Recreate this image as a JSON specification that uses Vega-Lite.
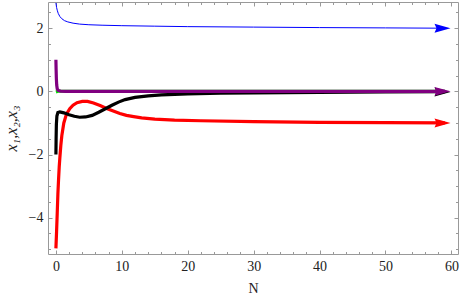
{
  "$schema": "https://vega.github.io/schema/vega-lite/v6.json",
  "width": 410,
  "height": 252,
  "padding": {"left": 48, "top": 2, "right": 2, "bottom": 48},
  "autosize": "none",
  "background": "white",
  "config": {
    "view": {"stroke": null},
    "axis": {"labelFont": "Liberation Serif", "titleFont": "Liberation Serif", "labelFontSize": 14, "titleFontSize": 14, "titleFontWeight": "normal", "labelColor": "#222", "titleColor": "#222", "domainColor": "#999", "tickColor": "#999", "grid": false}
  },
  "datasets": {
    "lines": [
      {"s": "red", "x": 0, "y": -4.97}, {"s": "red", "x": 0.1, "y": -4.45}, {"s": "red", "x": 0.2, "y": -3.86}, {"s": "red", "x": 0.3, "y": -3.25}, {"s": "red", "x": 0.4, "y": -2.8}, {"s": "red", "x": 0.5, "y": -2.4}, {"s": "red", "x": 0.6, "y": -2.1}, {"s": "red", "x": 0.75, "y": -1.7}, {"s": "red", "x": 0.9, "y": -1.4}, {"s": "red", "x": 1.2, "y": -1.0}, {"s": "red", "x": 1.6, "y": -0.72}, {"s": "red", "x": 2.1, "y": -0.55}, {"s": "red", "x": 2.6, "y": -0.44}, {"s": "red", "x": 3.2, "y": -0.36}, {"s": "red", "x": 4.0, "y": -0.32}, {"s": "red", "x": 4.8, "y": -0.32}, {"s": "red", "x": 5.7, "y": -0.37}, {"s": "red", "x": 6.7, "y": -0.45}, {"s": "red", "x": 7.7, "y": -0.54}, {"s": "red", "x": 8.7, "y": -0.62}, {"s": "red", "x": 9.7, "y": -0.7}, {"s": "red", "x": 10.7, "y": -0.76}, {"s": "red", "x": 11.8, "y": -0.8}, {"s": "red", "x": 13, "y": -0.84}, {"s": "red", "x": 15, "y": -0.88}, {"s": "red", "x": 18, "y": -0.91}, {"s": "red", "x": 22, "y": -0.93}, {"s": "red", "x": 30, "y": -0.96}, {"s": "red", "x": 40, "y": -0.98}, {"s": "red", "x": 50, "y": -0.99}, {"s": "red", "x": 59, "y": -1.0},
      {"s": "black", "x": 0, "y": -2.0}, {"s": "black", "x": 0.03, "y": -1.5}, {"s": "black", "x": 0.07, "y": -1.05}, {"s": "black", "x": 0.15, "y": -0.78}, {"s": "black", "x": 0.3, "y": -0.67}, {"s": "black", "x": 0.6, "y": -0.65}, {"s": "black", "x": 1.2, "y": -0.68}, {"s": "black", "x": 2.0, "y": -0.74}, {"s": "black", "x": 2.8, "y": -0.79}, {"s": "black", "x": 3.6, "y": -0.82}, {"s": "black", "x": 4.5, "y": -0.81}, {"s": "black", "x": 5.5, "y": -0.76}, {"s": "black", "x": 6.5, "y": -0.66}, {"s": "black", "x": 7.5, "y": -0.55}, {"s": "black", "x": 8.5, "y": -0.44}, {"s": "black", "x": 9.5, "y": -0.34}, {"s": "black", "x": 10.5, "y": -0.26}, {"s": "black", "x": 12, "y": -0.19}, {"s": "black", "x": 14, "y": -0.14}, {"s": "black", "x": 16, "y": -0.11}, {"s": "black", "x": 20, "y": -0.08}, {"s": "black", "x": 25, "y": -0.06}, {"s": "black", "x": 30, "y": -0.045}, {"s": "black", "x": 40, "y": -0.03}, {"s": "black", "x": 50, "y": -0.02}, {"s": "black", "x": 59, "y": -0.01},
      {"s": "green", "x": 0, "y": -0.02}, {"s": "green", "x": 0.3, "y": 0.0}, {"s": "green", "x": 59, "y": 0.0},
      {"s": "purple", "x": 0, "y": 1.0}, {"s": "purple", "x": 0.03, "y": 0.7}, {"s": "purple", "x": 0.07, "y": 0.4}, {"s": "purple", "x": 0.12, "y": 0.2}, {"s": "purple", "x": 0.2, "y": 0.08}, {"s": "purple", "x": 0.35, "y": 0.03}, {"s": "purple", "x": 0.7, "y": 0.008}, {"s": "purple", "x": 1.5, "y": 0.0}, {"s": "purple", "x": 59, "y": 0.0},
      {"s": "blue", "x": 0, "y": 2.8}, {"s": "blue", "x": 0.1, "y": 2.66}, {"s": "blue", "x": 0.2, "y": 2.57}, {"s": "blue", "x": 0.35, "y": 2.47}, {"s": "blue", "x": 0.6, "y": 2.37}, {"s": "blue", "x": 0.9, "y": 2.3}, {"s": "blue", "x": 1.3, "y": 2.24}, {"s": "blue", "x": 1.8, "y": 2.2}, {"s": "blue", "x": 2.6, "y": 2.16}, {"s": "blue", "x": 3.6, "y": 2.13}, {"s": "blue", "x": 5, "y": 2.11}, {"s": "blue", "x": 7, "y": 2.095}, {"s": "blue", "x": 10, "y": 2.08}, {"s": "blue", "x": 15, "y": 2.065}, {"s": "blue", "x": 20, "y": 2.05}, {"s": "blue", "x": 30, "y": 2.035}, {"s": "blue", "x": 40, "y": 2.02}, {"s": "blue", "x": 50, "y": 2.01}, {"s": "blue", "x": 59, "y": 2.0}
    ],
    "arrows": [
      {"s": "red", "x": 58.65, "y": -1.0},
      {"s": "black", "x": 58.65, "y": -0.02},
      {"s": "purple", "x": 58.65, "y": 0.0},
      {"s": "blue", "x": 58.65, "y": 2.0}
    ]
  },
  "resolve": {"axis": {"x": "independent", "y": "independent"}},
  "layer": [
    {
      "data": {"name": "lines"},
      "mark": {"type": "line", "opacity": 0},
      "encoding": {
        "x": {"field": "x", "type": "quantitative", "scale": {"domain": [-1.2, 61.0], "nice": false, "zero": false},
          "axis": {"orient": "bottom", "values": [0, 10, 20, 30, 40, 50, 60], "tickSize": -4, "labelPadding": 9, "title": "N", "titlePadding": 8, "domain": true}},
        "y": {"field": "y", "type": "quantitative", "scale": {"domain": [-5.15, 2.83], "nice": false, "zero": false},
          "axis": {"orient": "left", "values": [-4, -2, 0, 2], "tickSize": -4, "labelPadding": 9, "title": "x₁,x₂,x₃", "titleFontStyle": "italic", "titleFontSize": 16, "titlePadding": 9, "domain": true}}
      }
    },
    {
      "data": {"name": "lines"},
      "mark": {"type": "line", "opacity": 0},
      "encoding": {
        "x": {"field": "x", "type": "quantitative", "axis": {"orient": "top", "values": [0, 10, 20, 30, 40, 50, 60], "tickSize": -4, "labels": false, "title": null, "domain": true}},
        "y": {"field": "y", "type": "quantitative", "axis": {"orient": "right", "values": [-4, -2, 0, 2], "tickSize": -4, "labels": false, "title": null, "domain": true}}
      }
    },
    {
      "data": {"name": "lines"},
      "mark": {"type": "line", "opacity": 0},
      "encoding": {
        "x": {"field": "x", "type": "quantitative", "axis": {"orient": "bottom", "values": [2, 4, 6, 8, 12, 14, 16, 18, 22, 24, 26, 28, 32, 34, 36, 38, 42, 44, 46, 48, 52, 54, 56, 58], "tickSize": -2.5, "labels": false, "title": null, "domain": false}},
        "y": {"field": "y", "type": "quantitative", "axis": {"orient": "left", "values": [-5, -4.5, -3.5, -3, -2.5, -1.5, -1, -0.5, 0.5, 1, 1.5, 2.5], "tickSize": -2.5, "labels": false, "title": null, "domain": false}}
      }
    },
    {
      "data": {"name": "lines"},
      "mark": {"type": "line", "opacity": 0},
      "encoding": {
        "x": {"field": "x", "type": "quantitative", "axis": {"orient": "top", "values": [2, 4, 6, 8, 12, 14, 16, 18, 22, 24, 26, 28, 32, 34, 36, 38, 42, 44, 46, 48, 52, 54, 56, 58], "tickSize": -2.5, "labels": false, "title": null, "domain": false}},
        "y": {"field": "y", "type": "quantitative", "axis": {"orient": "right", "values": [-5, -4.5, -3.5, -3, -2.5, -1.5, -1, -0.5, 0.5, 1, 1.5, 2.5], "tickSize": -2.5, "labels": false, "title": null, "domain": false}}
      }
    },
    {
      "data": {"name": "lines"},
      "transform": [{"filter": "datum.s === 'red'"}],
      "mark": {"type": "line", "color": "#ff0000", "strokeWidth": 3.2, "clip": true},
      "encoding": {"x": {"field": "x", "type": "quantitative", "axis": null}, "y": {"field": "y", "type": "quantitative", "axis": null}}
    },
    {
      "data": {"name": "arrows"},
      "transform": [{"filter": "datum.s === 'red'"}],
      "mark": {"type": "point", "filled": true, "opacity": 1, "color": "#ff0000", "size": 256, "shape": "M-1,-0.56L1,0L-1,0.56L-0.75,0Z"},
      "encoding": {"x": {"field": "x", "type": "quantitative", "axis": null}, "y": {"field": "y", "type": "quantitative", "axis": null}}
    },
    {
      "data": {"name": "lines"},
      "transform": [{"filter": "datum.s === 'black'"}],
      "mark": {"type": "line", "color": "#000000", "strokeWidth": 3.2, "clip": true},
      "encoding": {"x": {"field": "x", "type": "quantitative", "axis": null}, "y": {"field": "y", "type": "quantitative", "axis": null}}
    },
    {
      "data": {"name": "arrows"},
      "transform": [{"filter": "datum.s === 'black'"}],
      "mark": {"type": "point", "filled": true, "opacity": 1, "color": "#000000", "size": 256, "shape": "M-1,-0.56L1,0L-1,0.56L-0.75,0Z"},
      "encoding": {"x": {"field": "x", "type": "quantitative", "axis": null}, "y": {"field": "y", "type": "quantitative", "axis": null}}
    },
    {
      "data": {"name": "lines"},
      "transform": [{"filter": "datum.s === 'green'"}],
      "mark": {"type": "line", "color": "#00e000", "strokeWidth": 3, "clip": true},
      "encoding": {"x": {"field": "x", "type": "quantitative", "axis": null}, "y": {"field": "y", "type": "quantitative", "axis": null}}
    },
    {
      "data": {"name": "lines"},
      "transform": [{"filter": "datum.s === 'purple'"}],
      "mark": {"type": "line", "color": "#800080", "strokeWidth": 3.2, "clip": true},
      "encoding": {"x": {"field": "x", "type": "quantitative", "axis": null}, "y": {"field": "y", "type": "quantitative", "axis": null}}
    },
    {
      "data": {"name": "arrows"},
      "transform": [{"filter": "datum.s === 'purple'"}],
      "mark": {"type": "point", "filled": true, "opacity": 1, "color": "#800080", "size": 256, "shape": "M-1,-0.56L1,0L-1,0.56L-0.75,0Z"},
      "encoding": {"x": {"field": "x", "type": "quantitative", "axis": null}, "y": {"field": "y", "type": "quantitative", "axis": null}}
    },
    {
      "data": {"name": "lines"},
      "transform": [{"filter": "datum.s === 'blue'"}],
      "mark": {"type": "line", "color": "#0000ff", "strokeWidth": 1, "clip": true},
      "encoding": {"x": {"field": "x", "type": "quantitative", "axis": null}, "y": {"field": "y", "type": "quantitative", "axis": null}}
    },
    {
      "data": {"name": "arrows"},
      "transform": [{"filter": "datum.s === 'blue'"}],
      "mark": {"type": "point", "filled": true, "opacity": 1, "color": "#0000ff", "size": 256, "shape": "M-1,-0.56L1,0L-1,0.56L-0.75,0Z"},
      "encoding": {"x": {"field": "x", "type": "quantitative", "axis": null}, "y": {"field": "y", "type": "quantitative", "axis": null}}
    }
  ]
}
